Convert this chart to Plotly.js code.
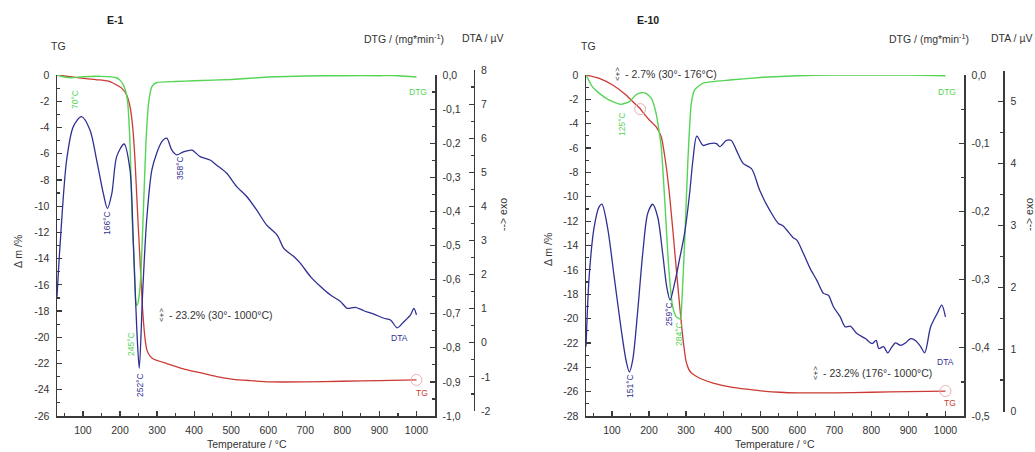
<!DOCTYPE html>
<html>
<head>
<meta charset="utf-8">
<script src="https://cdn.plot.ly/plotly-3.0.1.min.js"></script>
<style>html,body{margin:0;padding:0;background:#fff;}#chart{width:1035px;height:452px;}</style>
</head>
<body>
<div id="chart"></div>
<script>
// ---------- E-1 data ----------
const e1_tg_T = [30,101,146,173,191,204.5,218,227,234,240.5,247,254,261,268,272,276,282,290,326,371,416,461,506,551,605,700,800,900,1000];
const e1_tg   = [0,-0.25,-0.38,-0.5,-0.76,-1.0,-1.52,-2.4,-3.9,-6.5,-10.3,-14.1,-17.9,-20.2,-20.9,-21.2,-21.45,-21.65,-22.0,-22.4,-22.7,-23.0,-23.2,-23.3,-23.4,-23.4,-23.35,-23.3,-23.25];
const e1_dtg_T = [30,50,70,100,150,190,200,211,220,227,232,238,243,246,250,256,263,270,277,286,299,350,400,500,600,700,800,900,950,1000];
const e1_dtg   = [0,-0.006,-0.008,-0.005,-0.004,-0.008,-0.015,-0.034,-0.073,-0.20,-0.40,-0.54,-0.67,-0.675,-0.66,-0.59,-0.40,-0.20,-0.083,-0.034,-0.022,-0.019,-0.017,-0.013,-0.006,-0.003,-0.002,-0.002,-0.002,-0.006];
const e1_dta_T = [30,38,56,74,96,119,137,155,166,178,191,211,227,236,245,252,261,272,286,299,313,326,340,353,371,394,416,443,461,488,515,542,569,596,624,642,669,687,714,741,768,795,813,835,858,885,912,930,948,966,984,993,1000];
const e1_dta   = [1.35,2.82,5.36,6.34,6.63,6.24,5.36,4.38,3.94,4.38,5.46,5.83,5.07,2.92,0.47,-0.75,1.45,3.6,5.07,5.56,5.9,6.0,5.65,5.51,5.6,5.65,5.46,5.36,5.21,4.97,4.58,4.29,3.89,3.45,3.16,2.77,2.53,2.33,1.94,1.65,1.40,1.21,1.01,1.04,0.94,0.84,0.72,0.67,0.44,0.62,0.82,1.01,0.82];
const e1_circle_T = [1000];
const e1_circle_tg = [-23.25];

// ---------- E-10 data ----------
const e10_tg_T = [30,66,102,138,165,176,183,201,219,233,244,255,266,278,290,300,307,314,325,337,373,418,463,508,553,600,650,700,800,900,1000];
const e10_tg   = [0,-0.27,-0.82,-1.64,-2.45,-2.75,-3.05,-3.69,-4.24,-5.07,-6.98,-9.72,-13.3,-17.4,-21.2,-23.5,-24.15,-24.45,-24.7,-24.9,-25.3,-25.6,-25.8,-25.95,-26.05,-26.1,-26.1,-26.1,-26.05,-26.0,-25.95];
const e10_dtg_T = [30,47,66,93,124,147,165,179,192,206,219,233,244,253,264,273,280,285,288,296,305,314,323,346,418,508,600,700,800,900,1000];
const e10_dtg   = [0,-0.017,-0.027,-0.037,-0.043,-0.039,-0.029,-0.026,-0.027,-0.034,-0.056,-0.105,-0.198,-0.281,-0.34,-0.354,-0.357,-0.358,-0.34,-0.247,-0.125,-0.042,-0.022,-0.012,-0.0073,-0.0034,-0.001,0,0,0,-0.001];
const e10_dta_T = [30,38.5,52,65.6,73,88,106,124,138,147,156,169,183,196.5,210,223.6,237,248,257,269,282,296,309.5,318.5,329,346,364,382,391,409,422,436,454,477,499,526,549,562,589,599,617,635,653,671,684,698,716,729.5,743,761,784,802,813,820,833,844,856,865,879,892,906,919,933,944,960,978,990,1000];
const e10_dta   = [1.04,2.17,2.97,3.30,3.34,2.97,2.17,1.36,0.82,0.63,0.82,1.58,2.54,3.19,3.34,3.13,2.54,2.0,1.79,2.06,2.44,2.87,3.51,4.05,4.44,4.29,4.32,4.32,4.27,4.37,4.37,4.21,4.0,3.91,3.56,3.24,3.03,2.99,2.80,2.76,2.54,2.30,2.11,1.90,1.87,1.68,1.52,1.36,1.37,1.25,1.17,1.09,1.14,1.01,1.04,0.94,1.04,1.10,1.06,1.10,1.17,1.14,1.04,0.94,1.36,1.58,1.71,1.52];
const e10_circle_T = [176,1000];
const e10_circle_tg = [-2.8,-25.95];

// ---------- tick labels ----------
const xTickVals = [100,200,300,400,500,600,700,800,900,1000];
const xTickText = ['100','200','300','400','500','600','700','800','900','1000'];
const xMinorVals = [50,150,250,350,450,550,650,750,850,950,1050];
const tg1TickVals = [0,-2,-4,-6,-8,-10,-12,-14,-16,-18,-20,-22,-24,-26];
const tg1TickText = ['0','-2','-4','-6','-8','-10','-12','-14','-16','-18','-20','-22','-24','-26'];
const tg10TickVals = [0,-2,-4,-6,-8,-10,-12,-14,-16,-18,-20,-22,-24,-26,-28];
const tg10TickText = ['0','-2','-4','-6','-8','-10','-12','-14','-16','-18','-20','-22','-24','-26','-28'];
const dtg1TickVals = [0,-0.1,-0.2,-0.3,-0.4,-0.5,-0.6,-0.7,-0.8,-0.9,-1.0];
const dtg1TickText = ['0,0','-0,1','-0,2','-0,3','-0,4','-0,5','-0,6','-0,7','-0,8','-0,9','-1,0'];
const dtg10TickVals = [0,-0.1,-0.2,-0.3,-0.4,-0.5];
const dtg10TickText = ['0,0','-0,1','-0,2','-0,3','-0,4','-0,5'];
const dta1TickVals = [8,7,6,5,4,3,2,1,0,-1,-2];
const dta1TickText = ['8','7','6','5','4','3','2','1','0','-1','-2'];
const dta10TickVals = [0,1,2,3,4,5];
const dta10TickText = ['0','1','2','3','4','5'];

const RED = '#cc3a35', GREEN = '#55d455', BLUE = '#2f2f94', AX = '#3a3a3a';
const FONT = 'Liberation Sans, Arial, sans-serif';
const W = 1035, H = 452;
const px = v => v / W, py = v => 1 - v / H;

function halfSteps(a, b, step) { const out = []; for (let v = a; v <= b + 1e-9; v += step) out.push(+v.toFixed(3)); return out; }

function baseAxis(extra) {
  return Object.assign({
    showline: true, linecolor: AX, linewidth: 1.5, showgrid: false, zeroline: false,
    ticks: 'inside', ticklen: 5, tickwidth: 1.2, tickcolor: AX, tickmode: 'array',
    tickfont: {family: FONT, size: 10.5, color: '#333'}, ticklabelstandoff: 4
  }, extra);
}

const lineOf = (c, w, s) => ({color: c, width: w, shape: 'spline', smoothing: s});

const traces = [
  {x: e1_tg_T, y: e1_tg, xaxis: 'x', yaxis: 'y', mode: 'lines', line: lineOf(RED, 1.3, 0.5)},
  {x: e1_dtg_T, y: e1_dtg, xaxis: 'x', yaxis: 'y2', mode: 'lines', line: lineOf(GREEN, 1.4, 0.5)},
  {x: e1_dta_T, y: e1_dta, xaxis: 'x', yaxis: 'y3', mode: 'lines', line: lineOf(BLUE, 1.3, 0.8)},
  {x: e1_circle_T, y: e1_circle_tg, xaxis: 'x', yaxis: 'y', mode: 'markers', marker: {symbol: 'circle-open', size: 11, color: '#eab0b0', line: {width: 1}}},
  {x: e10_tg_T, y: e10_tg, xaxis: 'x2', yaxis: 'y4', mode: 'lines', line: lineOf(RED, 1.3, 0.5)},
  {x: e10_dtg_T, y: e10_dtg, xaxis: 'x2', yaxis: 'y5', mode: 'lines', line: lineOf(GREEN, 1.4, 0.5)},
  {x: e10_dta_T, y: e10_dta, xaxis: 'x2', yaxis: 'y6', mode: 'lines', line: lineOf(BLUE, 1.3, 0.8)},
  {x: e10_circle_T, y: e10_circle_tg, xaxis: 'x2', yaxis: 'y4', mode: 'markers', marker: {symbol: 'circle-open', size: 11, color: '#eab0b0', line: {width: 1}}}
];

const yDom = [py(416), py(75)];

function A(text, x, y, o) {
  return Object.assign({text: text, x: px(x), y: py(y), xref: 'paper', yref: 'paper', showarrow: false,
    xanchor: 'center', yanchor: 'middle', font: {family: FONT, size: 10.5, color: '#333'}}, o || {});
}
const small = c => ({family: FONT, size: 8.5, color: c});

const annotations = [
  // E-1
  A('<b>E-1</b>', 115, 20, {font: {family: FONT, size: 10.5, color: '#222'}}),
  A('TG', 58, 46),
  A('DTG / (mg*min<sup>-1</sup>)', 404, 38),
  A('DTA / µV', 482, 38),
  A('Δ m /%', 18, 252, {textangle: -90}),
  A('--> exo', 503, 215, {textangle: -90}),
  A('Temperature / °C', 247, 444),
  A('70°C', 75, 100, {textangle: -90, font: small(GREEN)}),
  A('166°C', 107, 223, {textangle: -90, font: small(BLUE)}),
  A('358°C', 180, 168, {textangle: -90, font: small(BLUE)}),
  A('245°C', 131, 344, {textangle: -90, font: small(GREEN)}),
  A('252°C', 140, 385, {textangle: -90, font: small(BLUE)}),
  A('&lt;+&gt;', 162, 315, {textangle: 90, font: {family: FONT, size: 8, color: '#333'}}),
  A('- 23.2% (30°- 1000°C)', 167, 315, {xanchor: 'left'}),
  A('DTG', 418, 92, {font: small(GREEN)}),
  A('DTA', 399, 338, {font: small(BLUE)}),
  A('TG', 422, 393, {font: small(RED)}),
  // E-10
  A('<b>E-10</b>', 648, 20, {font: {family: FONT, size: 10.5, color: '#222'}}),
  A('TG', 588, 46),
  A('DTG / (mg*min<sup>-1</sup>)', 929, 38),
  A('DTA / µV', 1034, 38, {xanchor: 'right'}),
  A('Δ m /%', 548, 250, {textangle: -90}),
  A('--> exo', 1029, 215, {textangle: -90}),
  A('Temperature / °C', 775, 444),
  A('&lt;+&gt;', 618, 74, {textangle: 90, font: {family: FONT, size: 8, color: '#333'}}),
  A('- 2.7% (30°- 176°C)', 623, 74, {xanchor: 'left'}),
  A('125°C', 622, 124, {textangle: -90, font: small(GREEN)}),
  A('151°C', 630, 386, {textangle: -90, font: small(BLUE)}),
  A('259°C', 669, 314, {textangle: -90, font: small(BLUE)}),
  A('284°C', 679, 334, {textangle: -90, font: small(GREEN)}),
  A('&lt;+&gt;', 816, 373, {textangle: 90, font: {family: FONT, size: 8, color: '#333'}}),
  A('- 23.2% (176°- 1000°C)', 821, 373, {xanchor: 'left'}),
  A('DTG', 947, 92, {font: small(GREEN)}),
  A('DTA', 945, 362, {font: small(BLUE)}),
  A('TG', 950, 403, {font: small(RED)})
];

const layout = {
  width: W, height: H, margin: {l: 0, r: 0, t: 0, b: 0},
  paper_bgcolor: '#fff', plot_bgcolor: 'rgba(0,0,0,0)', showlegend: false,
  xaxis: baseAxis({domain: [px(57), px(435)], range: [30, 1050], anchor: 'y',
    tickvals: xTickVals, ticktext: xTickText, minor: {ticks: 'inside', ticklen: 3, tickcolor: AX, tickvals: xMinorVals}}),
  yaxis: baseAxis({domain: yDom, range: [-26, 0], anchor: 'x',
    tickvals: tg1TickVals, ticktext: tg1TickText, minor: {ticks: 'inside', ticklen: 3, tickcolor: AX, tickvals: halfSteps(-25, -1, 2)}}),
  yaxis2: baseAxis({overlaying: 'y', side: 'right', anchor: 'x', range: [-1, 0],
    tickvals: dtg1TickVals, ticktext: dtg1TickText, minor: {ticks: 'inside', ticklen: 3, tickcolor: AX, tickvals: halfSteps(-0.95, -0.05, 0.1)}}),
  yaxis3: baseAxis({domain: [py(411), py(70)], anchor: 'free', position: px(473.5), side: 'right', range: [-2, 8],
    tickvals: dta1TickVals, ticktext: dta1TickText, minor: {ticks: 'inside', ticklen: 3, tickcolor: AX, tickvals: halfSteps(-1.5, 7.5, 1)}}),
  xaxis2: baseAxis({domain: [px(586), px(964)], range: [30, 1050], anchor: 'y4',
    tickvals: xTickVals, ticktext: xTickText, minor: {ticks: 'inside', ticklen: 3, tickcolor: AX, tickvals: xMinorVals}}),
  yaxis4: baseAxis({domain: yDom, range: [-28, 0], anchor: 'x2',
    tickvals: tg10TickVals, ticktext: tg10TickText, minor: {ticks: 'inside', ticklen: 3, tickcolor: AX, tickvals: halfSteps(-27, -1, 2)}}),
  yaxis5: baseAxis({overlaying: 'y4', side: 'right', anchor: 'x2', range: [-0.5, 0],
    tickvals: dtg10TickVals, ticktext: dtg10TickText, minor: {ticks: 'inside', ticklen: 3, tickcolor: AX, tickvals: halfSteps(-0.45, -0.05, 0.1)}}),
  yaxis6: baseAxis({domain: [py(412), py(70.5)], anchor: 'free', position: px(1003), side: 'right', range: [-0.016, 5.5],
    tickvals: dta10TickVals, ticktext: dta10TickText, minor: {ticks: 'inside', ticklen: 3, tickcolor: AX, tickvals: halfSteps(0.5, 5.5, 1)}}),
  annotations: annotations
};

Plotly.newPlot('chart', traces, layout, {staticPlot: true, displayModeBar: false});
</script>
</body>
</html>
